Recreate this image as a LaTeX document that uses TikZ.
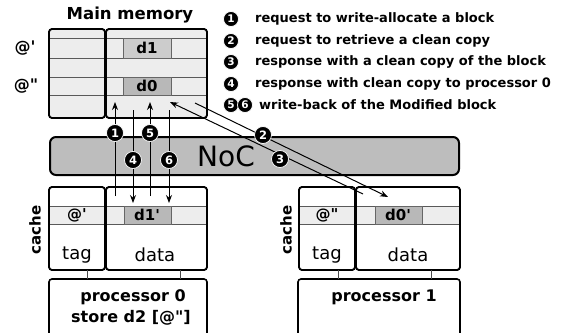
\documentclass[tikz,border=0pt]{standalone}
\usepackage{fontspec}
\setmainfont{DejaVu Sans}[Ligatures=TeXOff]
\usetikzlibrary{arrows.meta}
\begin{document}
\begin{tikzpicture}[x=1pt,y=-1pt,
  box/.style={draw=black,line width=1.6pt,rounded corners=3pt},
  rowline/.style={draw=black!65,line width=0.8pt},
  cellbox/.style={draw=black!60,line width=0.6pt},
  num/.style={circle,fill=black,draw=white,line width=0.7pt,text=white,font=\bfseries\fontsize{11.5}{11.5}\selectfont,inner sep=0pt,minimum size=17pt},
  lnum/.style={num,minimum size=15pt,font=\bfseries\fontsize{10.5}{10.5}\selectfont},
  legend/.style={anchor=west,font=\bfseries\fontsize{13}{14}\selectfont,inner sep=0pt},
  lbl/.style={font=\bfseries\fontsize{15}{16}\selectfont,inner sep=0pt},
  plbl/.style={font=\bfseries\fontsize{16}{17}\selectfont,inner sep=0pt},
  reg/.style={font=\fontsize{18}{20}\selectfont,inner sep=0pt},
  arr/.style={line width=1pt,-{Stealth[length=8pt,width=6pt]}},
  conn/.style={draw=black!70,line width=0.7pt}
]
\clip (0,0) rectangle (562,332);
\fill[white] (0,0) rectangle (562,332);

% ---------- Main memory ----------
\node[font=\bfseries\fontsize{16.5}{18}\selectfont,inner sep=0pt] (mmtitle) at (130,15) {Main memory};
\path[box,fill=black!7] (49,29) rectangle (105,118);
\path[box,fill=black!7] (106,29) rectangle (207,118);
\foreach \yy in {38,58,77,95}{\draw[rowline] (49,\yy) -- (207,\yy);}
\draw[cellbox,fill=black!20] (123,38) rectangle (171,58);
\draw[cellbox,fill=black!28] (123,77) rectangle (171,95);
\draw[box] (49,29) rectangle (105,118);
\draw[box] (106,29) rectangle (207,118);
\node[lbl] (d1) at (147,48) {d1};
\node[lbl] (d0) at (147,86) {d0};
\node[plbl] (a1) at (25,48) {@'};
\node[plbl] (a2) at (26,86) {@"};

% ---------- Legend ----------
\node[lnum] (l1) at (231,19) {1};
\node[lnum] (l2) at (231,41) {2};
\node[lnum] (l3) at (231,62) {3};
\node[lnum] (l4) at (231,84) {4};
\node[lnum] (l5) at (231,105) {5};
\node[lnum] (l6) at (245,105) {6};
\node[legend] (t1) at (255,19) {request to write-allocate a block};
\node[legend] (t2) at (255,41) {request to retrieve a clean copy};
\node[legend] (t3) at (255,62) {response with a clean copy of the block};
\node[legend] (t4) at (255,84) {response with clean copy to processor 0};
\node[legend] (t5) at (259,105) {write-back of the Modified block};

% ---------- NoC ----------
\path[draw=black,line width=2pt,rounded corners=6pt,fill=black!26] (50,137) rectangle (459,175);
\node[font=\fontsize{28}{30}\selectfont,inner sep=0pt] (noc) at (226,156) {NoC};

% ---------- Cache 0 ----------
\node[lbl,rotate=90] (c0) at (35,230) {cache};
\path[box,fill=white] (49,187) rectangle (105,270);
\path[box,fill=white] (106,187) rectangle (207,270);
\fill[black!7] (49,206) rectangle (207,224);
\draw[rowline] (49,206) -- (207,206);
\draw[rowline] (49,224) -- (207,224);
\draw[cellbox,fill=black!28] (124,206) rectangle (171,224);
\draw[box] (49,187) rectangle (105,270);
\draw[box] (106,187) rectangle (207,270);
\node[lbl] (tg0) at (77,215) {@'};
\node[lbl] (d10) at (147,215) {d1'};
\node[reg] (tag0) at (77,255) {tag};
\node[reg] (data0) at (155,255) {data};

% ---------- Cache 1 ----------
\node[lbl,rotate=90] (c1) at (286,230) {cache};
\path[box,fill=white] (299,187) rectangle (355,270);
\path[box,fill=white] (356,187) rectangle (460,270);
\fill[black!7] (299,206) rectangle (460,224);
\draw[rowline] (299,206) -- (460,206);
\draw[rowline] (299,224) -- (460,224);
\draw[cellbox,fill=black!28] (375,206) rectangle (422,224);
\draw[box] (299,187) rectangle (355,270);
\draw[box] (356,187) rectangle (460,270);
\node[lbl] (tg1) at (327,215) {@"};
\node[lbl] (d01) at (398,215) {d0'};
\node[reg] (tag1) at (327,255) {tag};
\node[reg] (data1) at (408,255) {data};

% ---------- Processors ----------
\draw[box,fill=white] (49,279) rectangle (207,345);
\draw[box,fill=white] (298,279) rectangle (460,345);
\node[plbl] (p0) at (133,297) {processor 0};
\node[plbl] (p0s) at (131,318) {store d2 [@"]};
\node[plbl] (p1) at (384,297) {processor 1};
\draw[conn] (87,270) -- (87,279);
\draw[conn] (180,270) -- (180,279);
\draw[conn] (338,270) -- (338,279);
\draw[conn] (431,270) -- (431,279);

% ---------- Arrows ----------
\coordinate (s1) at (115,196); \coordinate (e1) at (115,102);
\coordinate (s5) at (150,196); \coordinate (e5) at (150,102);
\coordinate (s4) at (133,110); \coordinate (e4) at (133,203);
\coordinate (s6) at (169,110); \coordinate (e6) at (169,203);
\coordinate (s2) at (195,103); \coordinate (e2) at (388,197);
\coordinate (s3) at (363,194); \coordinate (e3) at (170,102);
\draw[arr] (s1) -- (e1);
\draw[arr] (s5) -- (e5);
\draw[arr] (s4) -- (e4);
\draw[arr] (s6) -- (e6);
\draw[arr] (s2) -- (e2);
\draw[arr] (s3) -- (e3);
\node[num] (n1) at (115,133) {1};
\node[num] (n5) at (150,133) {5};
\node[num] (n4) at (133,160) {4};
\node[num] (n6) at (169,160) {6};
\node[num] (n2) at (263,135) {2};
\node[num] (n3) at (280,159) {3};
\end{tikzpicture}
\end{document}
